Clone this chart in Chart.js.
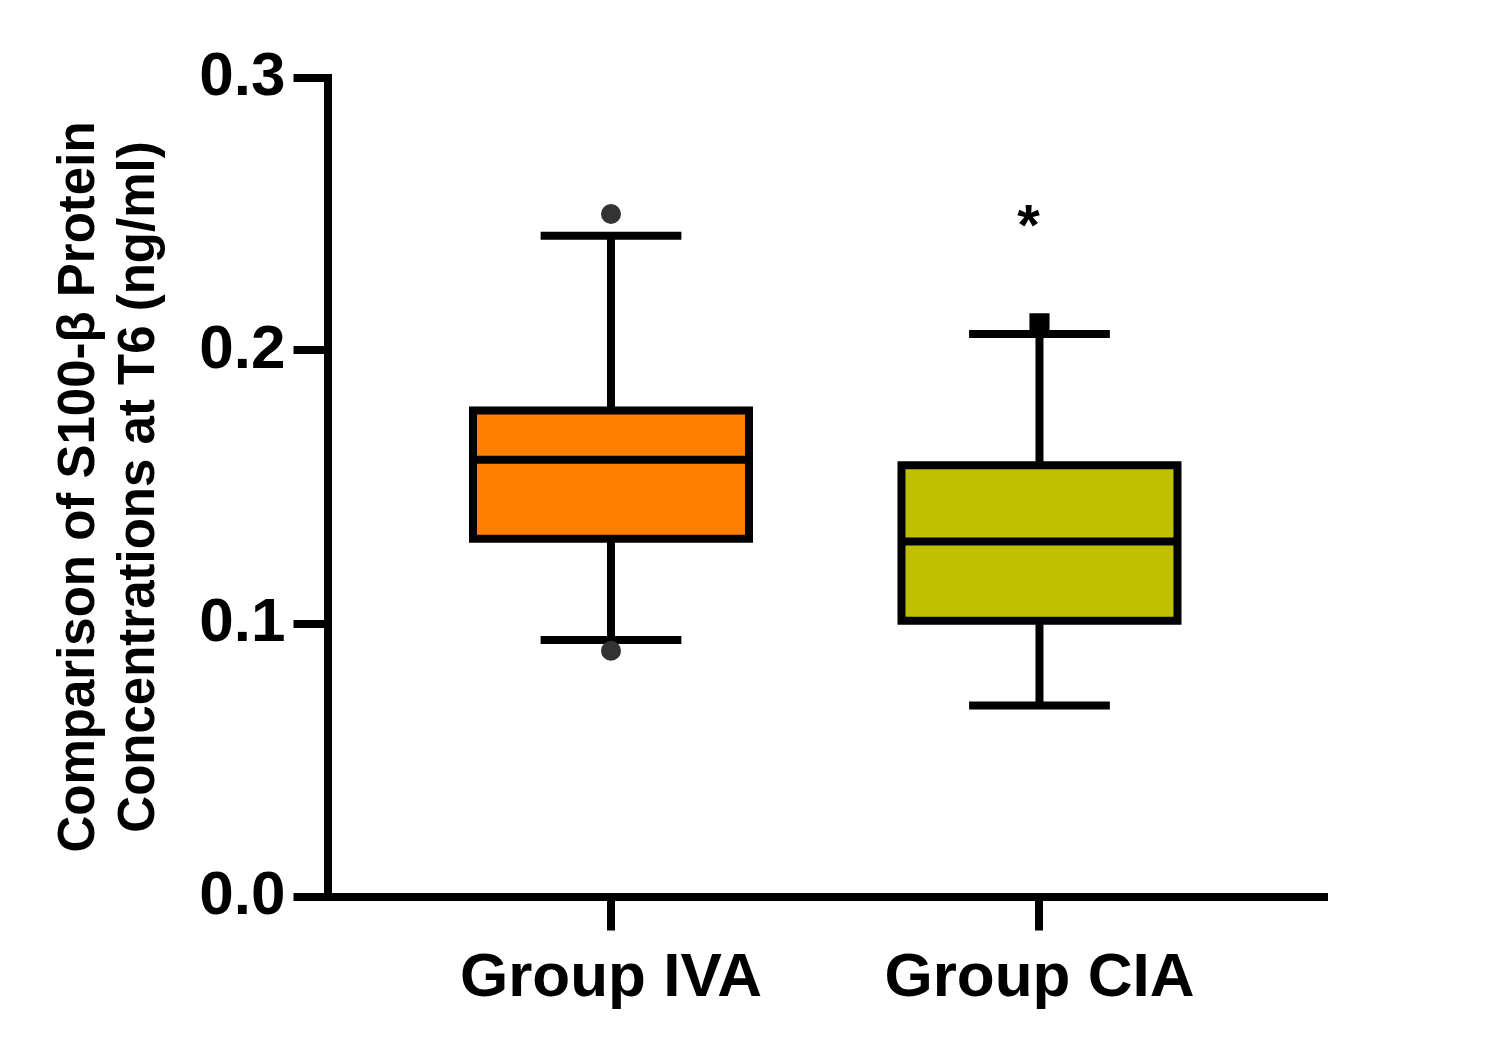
<!DOCTYPE html>
<html>
<head>
<meta charset="utf-8">
<script src="https://cdn.jsdelivr.net/npm/chart.js@4.4.1/dist/chart.umd.min.js"></script>
<style>
  html, body { margin: 0; padding: 0; background: #fff; }
  #wrap { width: 1489px; height: 1060px; position: relative; }
</style>
</head>
<body>
<div id="wrap"><canvas id="c"></canvas></div>
<script>
// ---- data ----
const categories = ['Group IVA', 'Group CIA'];
const q1 = [0.131, 0.101];
const median = [0.160, 0.130];
const q3 = [0.178, 0.158];
const whiskerLow = [0.094, 0.070];
const whiskerHigh = [0.242, 0.206];
const outliersIVA = [0.250, 0.090];
const outliersCIA = [0.210];
const boxColors = ['#FF8000', '#C0C000'];
const yTicks = [0.0, 0.1, 0.2, 0.3];
const yTitle = ['Comparison of S100-\u03B2 Protein', 'Concentrations at T6 (ng/ml)'];
const significance = [{ group: 1, y: 0.2485, text: '*' }];

const FONT = "'Liberation Sans', Arial, sans-serif";
const LW = 8;

const boxPlugin = {
  id: 'boxPlugin',
  afterDatasetDraw(chart, args) {
    if (args.index !== 0) return;
    const ctx = chart.ctx;
    const y = chart.scales.y;
    const meta = args.meta;
    ctx.save();
    ctx.strokeStyle = '#000';
    ctx.lineWidth = LW;
    ctx.lineCap = 'butt';
    meta.data.forEach((bar, i) => {
      const props = bar.getProps(['x', 'width'], true);
      const cx = props.x, hw = props.width / 2;
      const capHw = props.width * 0.255;
      const yq1 = y.getPixelForValue(q1[i]);
      const yq3 = y.getPixelForValue(q3[i]);
      const ymed = y.getPixelForValue(median[i]);
      const ylo = y.getPixelForValue(whiskerLow[i]);
      const yhi = y.getPixelForValue(whiskerHigh[i]);
      ctx.beginPath();
      ctx.moveTo(cx, yq3); ctx.lineTo(cx, yhi);
      ctx.moveTo(cx, yq1); ctx.lineTo(cx, ylo);
      ctx.moveTo(cx - capHw, yhi); ctx.lineTo(cx + capHw, yhi);
      ctx.moveTo(cx - capHw, ylo); ctx.lineTo(cx + capHw, ylo);
      ctx.stroke();
      ctx.beginPath();
      ctx.rect(cx - hw, yq3, 2 * hw, yq1 - yq3);
      ctx.stroke();
      ctx.beginPath();
      ctx.moveTo(cx - hw, ymed); ctx.lineTo(cx + hw, ymed);
      ctx.stroke();
    });
    ctx.restore();
  },
  afterDraw(chart) {
    const ctx = chart.ctx;
    const x = chart.scales.x, y = chart.scales.y;
    ctx.save();
    const fs = 58;
    ctx.font = 'bold ' + fs + 'px ' + FONT;
    ctx.fillStyle = '#000';
    ctx.textAlign = 'center';
    ctx.textBaseline = 'alphabetic';
    significance.forEach(s => {
      const px = x.getPixelForValue(s.group) - 11;
      const py = y.getPixelForValue(s.y) + fs * 0.46;
      ctx.fillText(s.text, px, py);
    });
    ctx.restore();
  }
};

const chartLeft = 327.5, chartRight = 1324, chartTop = 77.5, chartBottom = 896.5;

new Chart(document.getElementById('c'), {
  type: 'bar',
  data: {
    datasets: [
      {
        type: 'bar',
        order: 1,
        data: categories.map((c, i) => ({ x: i, y: [q1[i], q3[i]] })),
        backgroundColor: boxColors,
        borderWidth: 0,
        barThickness: 276,
        inflateAmount: 0
      },
      {
        type: 'line',
        order: 0,
        showLine: false,
        data: outliersIVA.map(v => ({ x: 0, y: v })),
        pointStyle: 'circle',
        pointRadius: 10,
        pointBackgroundColor: '#333333',
        pointBorderWidth: 0
      },
      {
        type: 'line',
        order: 0,
        showLine: false,
        data: outliersCIA.map(v => ({ x: 1, y: v })),
        pointStyle: 'rect',
        pointRadius: 14.2,
        pointBackgroundColor: '#000000',
        pointBorderWidth: 0
      }
    ]
  },
  options: {
    responsive: true,
    maintainAspectRatio: false,
    animation: false,
    devicePixelRatio: 1,
    layout: { padding: { left: 0, top: chartTop, right: 1489 - chartRight, bottom: 0 } },
    plugins: { legend: { display: false }, tooltip: { enabled: false } },
    scales: {
      x: {
        type: 'linear',
        offset: false,
        min: -0.6616,
        max: 1.664,
        afterBuildTicks: s => { s.ticks = categories.map((c, i) => ({ value: i })); },
        afterFit: s => { s.height = 1060 - chartBottom; },
        ticks: {
          callback: v => categories[v] ?? '',
          font: { family: FONT, size: 62, weight: 'bold' },
          color: '#000',
          padding: 11,
          maxRotation: 0,
          autoSkip: false
        },
        grid: { offset: false, drawOnChartArea: false, drawTicks: true, tickLength: 34, tickWidth: LW, lineWidth: LW, color: '#000', tickColor: '#000' },
        border: { display: true, width: LW, color: '#000' }
      },
      y: {
        type: 'linear',
        min: 0,
        max: 0.3,
        afterBuildTicks: s => { s.ticks = yTicks.map(v => ({ value: v })); },
        afterFit: s => { s.width = chartLeft; },
        ticks: {
          callback: v => Number(v).toFixed(1),
          font: { family: FONT, size: 62, weight: 'bold' },
          color: '#000',
          padding: 8
        },
        grid: { drawOnChartArea: false, drawTicks: true, tickLength: 34, tickWidth: LW, lineWidth: LW, color: '#000', tickColor: '#000' },
        border: { display: true, width: LW, color: '#000' },
        title: {
          display: true,
          text: yTitle,
          font: { family: FONT, size: 51, weight: 'bold', lineHeight: 60 / 51 },
          color: '#000',
          padding: { top: 50, bottom: 0 }
        }
      }
    }
  },
  plugins: [boxPlugin]
});
</script>
</body>
</html>
